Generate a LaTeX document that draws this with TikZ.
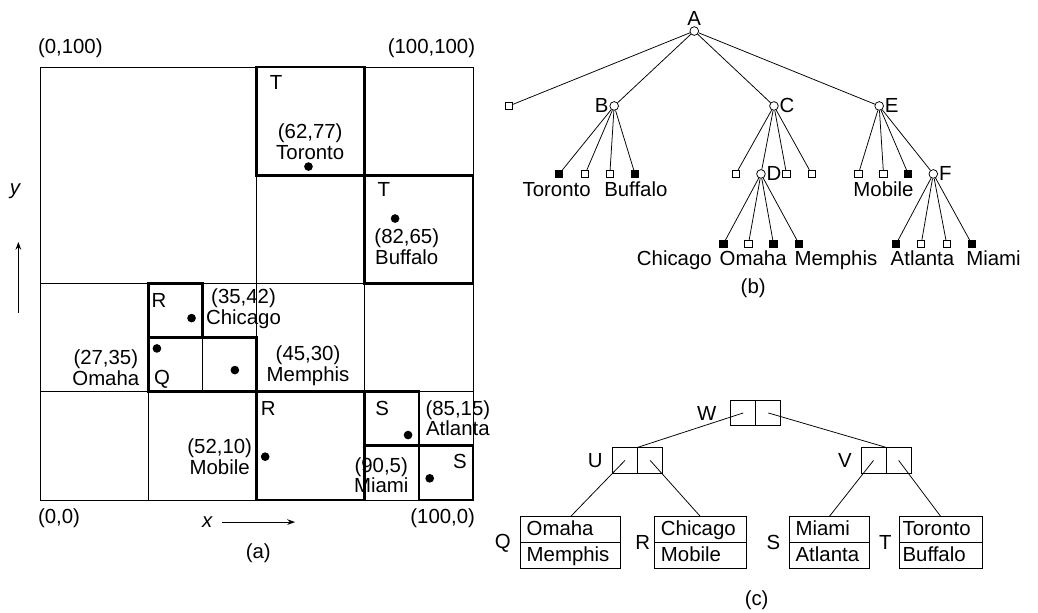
\documentclass[tikz,border=0pt]{standalone}
\usepackage{fontspec}
\setmainfont{Liberation Sans}
\usetikzlibrary{arrows.meta, positioning}

\begin{document}
\begin{tikzpicture}[
  >={Stealth[length=1.8mm, width=1.3mm]}, font=\fontsize{13.4}{13.6}\selectfont,
  thn/.style={line width=0.6pt},
  thk/.style={line width=1.8pt},
  nd/.style={circle, draw, fill=white, minimum size=2mm, inner sep=0pt, line width=0.5pt},
  lf/.style={rectangle, draw, minimum size=1.7mm, inner sep=0pt, line width=0.5pt},
  bl/.style={lf, fill=black},
  lb/.style={inner sep=0.5pt},
  nm/.style={text height=0.72em, text depth=0.21em},
  tx/.style={align=center, inner sep=0pt},
  ed/.style={line width=0.5pt},
  cl/.style={rectangle, draw, minimum width=5.8mm, minimum height=6mm, inner sep=0pt, outer sep=0pt, line width=0.6pt},
  rc/.style={rectangle, draw, text width=#1, minimum height=6mm, inner xsep=1.5mm, inner ysep=0pt, outer sep=0pt,
    align=left, text height=0.72em, text depth=0pt, line width=0.6pt}]

\useasboundingbox (-0.924,-2.587) rectangle (23.048,11.547);

% ---- (a): the 100 x 100 plane ----
\draw[thn] (0,0) rectangle (10,10);
\draw[thn] (0,2.5) -- (10,2.5);   \draw[thn] (0,5) -- (10,5);
\draw[thn] (5,7.5) -- (10,7.5);   \draw[thn] (7.5,0) -- (7.5,10);
\draw[thn] (5,2.5) -- (5,7.5);    \draw[thn] (2.5,0) -- (2.5,5);
\draw[thn] (3.75,2.5) -- (3.75,3.75);
\draw[thk] (5,7.5) rectangle (7.5,10);      \draw[thk] (7.5,5) rectangle (10,7.5);
\draw[thk] (2.5,3.75) rectangle (3.75,5);   \draw[thk] (2.5,2.5) rectangle (5,3.75);
\draw[thk] (5,0) rectangle (7.5,2.5);       \draw[thk] (7.5,1.25) rectangle (8.75,2.5);
\draw[thk] (8.75,0) rectangle (10,1.25);
\foreach \x/\y in {6.2/7.7, 8.2/6.5, 3.5/4.2, 2.7/3.5, 4.5/3.0, 5.2/1.0, 8.5/1.5, 9.0/0.5}
  \fill (\x,\y) circle (1mm);

\node (c01) at (0.70,10.44) {(0,100)};
\node (c11) at (9.04,10.44) {(100,100)};
\node (c00) at (0.44,-0.42) {(0,0)};
\node (c10) at (9.30,-0.42) {(100,0)};
\node (tT1) at (5.45,9.65) {T};
\node (tT2) at (7.94,7.16) {T};
\node (tR1) at (2.75,4.60) {R};
\node (tQ)  at (2.82,2.79) {Q};
\node (tR2) at (5.27,2.12) {R};
\node (tS1) at (7.90,2.12) {S};
\node (tS2) at (9.70,0.90) {S};
\node[tx] (pTor) at (6.24,8.28) {(62,77)\\Toronto};
\node[tx] (pBuf) at (8.47,5.85) {(82,65)\\Buffalo};
\node[tx] (pChi) at (4.70,4.42) {(35,42)\\Chicago};
\node[tx] (pOma) at (1.52,3.06) {(27,35)\\Omaha};
\node[tx] (pMem) at (6.19,3.10) {(45,30)\\Memphis};
\node[tx] (pMob) at (4.15,1.00) {(52,10)\\Mobile};
\node[tx] (pAtl) at (9.65,1.89) {(85,15)\\Atlanta};
\node[tx] (pMia) at (7.88,0.57) {(90,5)\\Miami};

\node (xl) at (3.86,-0.51) {\itshape x};
\coordinate (xa) at (4.20,-0.51); \coordinate (xb) at (5.89,-0.51);
\draw[thn, ->] (xa) -- (xb);
\node (yl) at (-0.58,7.14) {\itshape y};
\coordinate (ya) at (-0.50,4.32); \coordinate (yb) at (-0.50,5.96);
\draw[thn, ->] (ya) -- (yb);
\node (capa) at (5.04,-1.22) {(a)};

% ---- (b): the tree ----
\node[nd, label={[lb]above:A}] (A) at (15.11,10.83) {};
\node[lf] (a1) at (10.83,9.10) {};
\node[nd, label={[lb]left:B}]  (B) at (13.26,9.10) {};
\node[nd, label={[lb]right:C}] (C) at (16.95,9.10) {};
\node[nd, label={[lb]right:E}] (E) at (19.38,9.10) {};
\node[bl] (b1) at (11.99,7.53) {};
\node[lf] (b2) at (12.59,7.53) {};
\node[lf] (b3) at (13.16,7.53) {};
\node[bl] (b4) at (13.74,7.53) {};
\node[lf] (c1) at (16.07,7.53) {};
\node[nd, label={[lb]right:D}] (D) at (16.65,7.53) {};
\node[lf] (c3) at (17.24,7.53) {};
\node[lf] (c4) at (17.82,7.53) {};
\node[lf] (e1) at (18.90,7.53) {};
\node[lf] (e2) at (19.48,7.53) {};
\node[bl] (e3) at (20.05,7.53) {};
\node[nd, label={[lb]right:F}] (F) at (20.63,7.53) {};
\node[bl] (d1) at (15.78,5.91) {};
\node[lf] (d2) at (16.36,5.91) {};
\node[bl] (d3) at (16.94,5.91) {};
\node[bl] (d4) at (17.53,5.91) {};
\node[bl] (f1) at (19.77,5.91) {};
\node[lf] (f2) at (20.35,5.91) {};
\node[lf] (f3) at (20.94,5.91) {};
\node[bl] (f4) at (21.52,5.91) {};
\foreach \n in {a1,B,C,E} \draw[ed] (A) -- (\n);
\foreach \n in {b1,b2,b3,b4} \draw[ed] (B) -- (\n);
\foreach \n in {c1,D,c3,c4} \draw[ed] (C) -- (\n);
\foreach \n in {e1,e2,e3,F} \draw[ed] (E) -- (\n);
\foreach \n in {d1,d2,d3,d4} \draw[ed] (D) -- (\n);
\foreach \n in {f1,f2,f3,f4} \draw[ed] (F) -- (\n);

\node[nm] (lTor) at (11.93,7.10) {Toronto};
\node[nm] (lBuf) at (13.76,7.10) {Buffalo};
\node[nm] (lMob) at (19.48,7.10) {Mobile};
\node[nm] (lChi) at (14.65,5.51) {Chicago};
\node[nm] (lOma) at (16.47,5.51) {Omaha};
\node[nm] (lMem) at (18.38,5.51) {Memphis};
\node[nm] (lAtl) at (20.38,5.51) {Atlanta};
\node[nm] (lMia) at (22.02,5.51) {Miami};
\node (capb) at (16.47,4.89) {(b)};

% ---- (c): the R-tree ----
\node[cl] (w1) at (16.24,2.01) {};  \node[cl, right=0pt of w1] (w2) {};
\node[cl] (u1) at (13.51,0.915) {}; \node[cl, right=0pt of u1] (u2) {};
\node[cl] (v1) at (19.25,0.915) {}; \node[cl, right=0pt of v1] (v2) {};
\node (lW) at (15.40,2.00) {W};
\node (lU) at (12.82,0.92) {U};
\node (lV) at (18.59,0.92) {V};
\node[rc=2.02cm] (q1) at (12.25,-0.686) {Omaha};
\node[rc=2.02cm, below=0pt of q1] (q2) {Memphis};
\node[rc=1.83cm] (r1) at (15.255,-0.686) {Chicago};
\node[rc=1.83cm, below=0pt of r1] (r2) {Mobile};
\node[rc=1.55cm] (s1) at (18.225,-0.686) {Miami};
\node[rc=1.55cm, below=0pt of s1] (s2) {Atlanta};
\node[rc=1.77cm, inner xsep=0.8mm] (t1) at (20.805,-0.686) {Toronto};
\node[rc=1.77cm, inner xsep=0.8mm, below=0pt of t1] (t2) {Buffalo};
\node (lQ) at (10.69,-0.99) {Q};
\node (lR) at (13.92,-0.99) {R};
\node (lS) at (16.94,-0.99) {S};
\node (lT) at (19.52,-0.99) {T};
\draw[ed] (w1.center) -- (u1.north east);
\draw[ed] (w2.center) -- (v1.north east);
\draw[ed] (u1.center) -- (q1.north);
\draw[ed] (u2.center) -- (r1.north);
\draw[ed] (v1.center) -- (s1.north);
\draw[ed] (v2.center) -- (t1.north);
\node (capc) at (16.55,-2.31) {(c)};
\end{tikzpicture}
\end{document}
